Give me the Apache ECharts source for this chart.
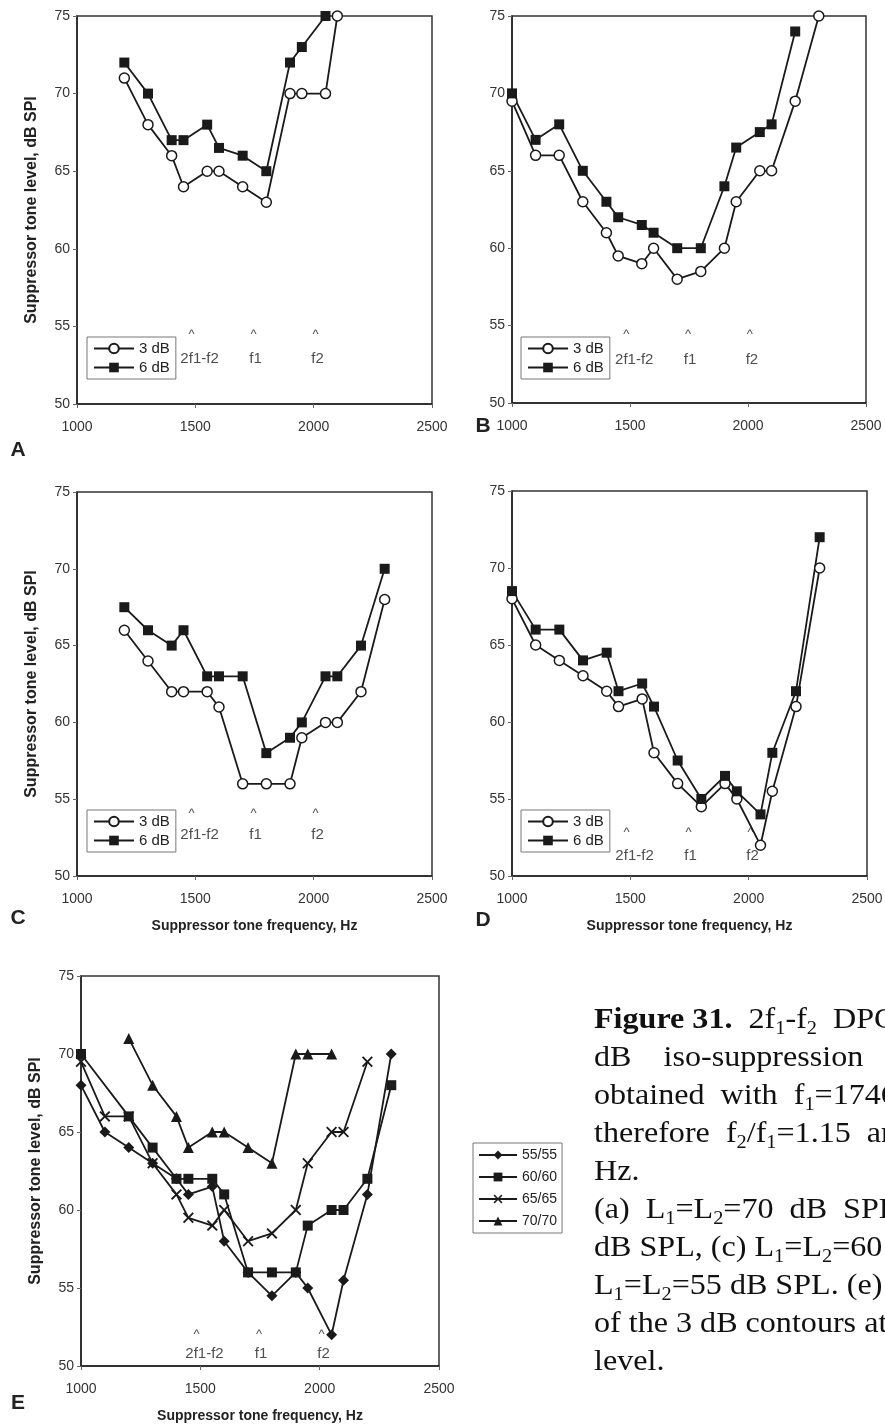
<!DOCTYPE html>
<html>
<head>
<meta charset="utf-8">
<script src="https://cdn.jsdelivr.net/npm/echarts@6/dist/echarts.min.js"></script>
<style>
  html, body { margin: 0; padding: 0; background: #fff; }
  #main { width: 885px; height: 1426px; }
</style>
</head>
<body>
<div id="main"></div>
<script>
// panel A: L1=L2=70
const freq3A = [1200, 1300, 1400, 1450, 1550, 1600, 1700, 1800, 1900, 1950, 2050, 2100];
const lev3A = [71, 68, 66, 64, 65, 65, 64, 63, 70, 70, 70, 75];
const freq6A = [1200, 1300, 1400, 1450, 1550, 1600, 1700, 1800, 1900, 1950, 2050];
const lev6A = [72, 70, 67, 67, 68, 66.5, 66, 65, 72, 73, 75];
// panel B: L1=L2=65
const freq3B = [1000, 1100, 1200, 1300, 1400, 1450, 1550, 1600, 1700, 1800, 1900, 1950, 2050, 2100, 2200, 2300];
const lev3B = [69.5, 66, 66, 63, 61, 59.5, 59, 60, 58, 58.5, 60, 63, 65, 65, 69.5, 75];
const freq6B = [1000, 1100, 1200, 1300, 1400, 1450, 1550, 1600, 1700, 1800, 1900, 1950, 2050, 2100, 2200];
const lev6B = [70, 67, 68, 65, 63, 62, 61.5, 61, 60, 60, 64, 66.5, 67.5, 68, 74];
// panel C: L1=L2=60
const freq3C = [1200, 1300, 1400, 1450, 1550, 1600, 1700, 1800, 1900, 1950, 2050, 2100, 2200, 2300];
const lev3C = [66, 64, 62, 62, 62, 61, 56, 56, 56, 59, 60, 60, 62, 68];
const freq6C = [1200, 1300, 1400, 1450, 1550, 1600, 1700, 1800, 1900, 1950, 2050, 2100, 2200, 2300];
const lev6C = [67.5, 66, 65, 66, 63, 63, 63, 58, 59, 60, 63, 63, 65, 70];
// panel D: L1=L2=55
const freq3D = [1000, 1100, 1200, 1300, 1400, 1450, 1550, 1600, 1700, 1800, 1900, 1950, 2050, 2100, 2200, 2300];
const lev3D = [68, 65, 64, 63, 62, 61, 61.5, 58, 56, 54.5, 56, 55, 52, 55.5, 61, 70];
const freq6D = [1000, 1100, 1200, 1300, 1400, 1450, 1550, 1600, 1700, 1800, 1900, 1950, 2050, 2100, 2200, 2300];
const lev6D = [68.5, 66, 66, 64, 64.5, 62, 62.5, 61, 57.5, 55, 56.5, 55.5, 54, 58, 62, 72];
// panel E: 3 dB contours per level
const freqE55 = [1000, 1100, 1200, 1300, 1400, 1450, 1550, 1600, 1700, 1800, 1900, 1950, 2050, 2100, 2200, 2300];
const levE55 = [68, 65, 64, 63, 62, 61, 61.5, 58, 56, 54.5, 56, 55, 52, 55.5, 61, 70];
const freqE60 = [1000, 1200, 1300, 1400, 1450, 1550, 1600, 1700, 1800, 1900, 1950, 2050, 2100, 2200, 2300];
const levE60 = [70, 66, 64, 62, 62, 62, 61, 56, 56, 56, 59, 60, 60, 62, 68];
const freqE65 = [1000, 1100, 1200, 1300, 1400, 1450, 1550, 1600, 1700, 1800, 1900, 1950, 2050, 2100, 2200];
const levE65 = [69.5, 66, 66, 63, 61, 59.5, 59, 60, 58, 58.5, 60, 63, 65, 65, 69.5];
const freqE70 = [1200, 1300, 1400, 1450, 1550, 1600, 1700, 1800, 1900, 1950, 2050];
const levE70 = [71, 68, 66, 64, 65, 65, 64, 63, 70, 70, 70];

// primary / distortion frequency markers
const markFreqs = [1484, 1746, 2008];
const markNames = ['2f1-f2', 'f1', 'f2'];
const xTicks = [1000, 1500, 2000, 2500];
const yTicks = [50, 55, 60, 65, 70, 75];

const FONT = "'Liberation Sans', Arial, sans-serif";
const INK = '#1a1a1a';
const CROSS = 'path://M0,1.2 L1.2,0 L5,3.8 L8.8,0 L10,1.2 L6.2,5 L10,8.8 L8.8,10 L5,6.2 L1.2,10 L0,8.8 L3.8,5 Z';

const grids = [
  { left: 77, top: 16, width: 355, height: 388 },
  { left: 512, top: 16, width: 354, height: 387 },
  { left: 77, top: 492, width: 355, height: 384 },
  { left: 512, top: 491, width: 355, height: 385 },
  { left: 81, top: 976, width: 358, height: 390 }
];

function xAxisFor(gi, withName) {
  return {
    gridIndex: gi, type: 'value',
    min: xTicks[0], max: xTicks[xTicks.length - 1], interval: 500,
    axisLine: { show: true, lineStyle: { color: '#222', width: 1.5 } },
    axisTick: { show: true, length: 4, lineStyle: { color: '#666' } },
    splitLine: { show: false },
    axisLabel: { fontSize: 14, color: '#333', margin: 16, fontFamily: FONT, formatter: v => String(v) },
    name: withName ? 'Suppressor tone frequency, Hz' : '',
    nameLocation: 'middle', nameGap: 43,
    nameTextStyle: { fontSize: 14, fontWeight: 'bold', color: '#222', fontFamily: FONT }
  };
}

function yAxisFor(gi, withName) {
  return {
    gridIndex: gi, type: 'value',
    min: yTicks[0], max: yTicks[yTicks.length - 1], interval: 5,
    axisLine: { show: true, lineStyle: { color: '#222', width: 1.5 } },
    axisTick: { show: true, length: 4, lineStyle: { color: '#666' } },
    splitLine: { show: false },
    axisLabel: { fontSize: 14, color: '#333', margin: 7, fontFamily: FONT, formatter: v => String(v) },
    name: withName ? 'Suppressor tone level, dB SPl' : '',
    nameLocation: 'middle', nameGap: 37,
    nameTextStyle: { fontSize: 16, fontWeight: 'bold', color: '#222', fontFamily: FONT }
  };
}

function curve(name, gi, xs, ys, symbol, open, size) {
  return {
    name: name, type: 'line', xAxisIndex: gi, yAxisIndex: gi,
    data: xs.map((x, k) => [x, ys[k]]),
    symbol: symbol, symbolSize: size || 10, showAllSymbol: true,
    clip: false, silent: true,
    lineStyle: { color: INK, width: 1.8 },
    itemStyle: { color: open ? '#fff' : INK, borderColor: INK, borderWidth: open ? 1.5 : 0 },
    emphasis: { disabled: true }
  };
}

function annotations(gi, caretY, labelY) {
  const base = {
    type: 'scatter', xAxisIndex: gi, yAxisIndex: gi, symbolSize: 1, silent: true,
    itemStyle: { color: 'rgba(0,0,0,0)' }
  };
  return [
    Object.assign({}, base, {
      data: markFreqs.map(f => [f, caretY]),
      label: { show: true, position: 'inside', formatter: '^', fontSize: 13, color: '#222', fontFamily: FONT }
    }),
    Object.assign({}, base, {
      data: markFreqs.map((f, k) => ({
        value: [f, labelY], name: markNames[k],
        label: { offset: [k === 0 ? 8 : 2, 0] }
      })),
      label: { show: true, position: 'inside', formatter: '{b}', fontSize: 15, color: '#222', fontFamily: FONT }
    })
  ];
}

function pairLegend(left, top) {
  return {
    data: ['3 dB', '6 dB'], left: left, top: top, orient: 'vertical',
    itemWidth: 40, itemHeight: 12, itemGap: 4, padding: [4, 6, 4, 6],
    borderColor: '#777', borderWidth: 1, selectedMode: false,
    textStyle: { fontSize: 15, color: '#222', fontFamily: FONT }
  };
}

const series = [
  curve('3 dB', 0, freq3A, lev3A, 'circle', true),
  curve('6 dB', 0, freq6A, lev6A, 'rect', false),
  curve('3 dB', 1, freq3B, lev3B, 'circle', true),
  curve('6 dB', 1, freq6B, lev6B, 'rect', false),
  curve('3 dB', 2, freq3C, lev3C, 'circle', true),
  curve('6 dB', 2, freq6C, lev6C, 'rect', false),
  curve('3 dB', 3, freq3D, lev3D, 'circle', true),
  curve('6 dB', 3, freq6D, lev6D, 'rect', false),
  curve('55/55', 4, freqE55, levE55, 'diamond', false, 11),
  curve('60/60', 4, freqE60, levE60, 'rect', false, 10),
  curve('65/65', 4, freqE65, levE65, CROSS, false, 11),
  curve('70/70', 4, freqE70, levE70, 'triangle', false, 11)
].concat(
  annotations(0, 54.5, 52.9),
  annotations(1, 54.4, 52.8),
  annotations(2, 54.1, 52.7),
  annotations(3, 52.8, 51.3),
  annotations(4, 52.0, 50.8)
);

const panelLetters = [['A', 18, 450], ['B', 483, 426], ['C', 18, 918], ['D', 483, 920], ['E', 18, 1403]];

const caption =
  '{b|Figure 31.}  2f{s|1}-f{s|2}  DPOAE 3 and 6\n' +
  'dB    iso-suppression    tuning curves\n' +
  'obtained  with  f{s|1}=1746 Hz and f{s|2}=2008 Hz,\n' +
  'therefore  f{s|2}/f{s|1}=1.15  and 2f{s|1}-f{s|2}=1484\n' +
  'Hz.\n' +
  '(a)  L{s|1}=L{s|2}=70  dB  SPL, (b) L{s|1}=L{s|2}=65\n' +
  'dB SPL, (c) L{s|1}=L{s|2}=60 dB SPL, (d)\n' +
  'L{s|1}=L{s|2}=55 dB SPL. (e) Comparison\n' +
  'of the 3 dB contours at each primary\n' +
  'level.';

const chart = echarts.init(document.getElementById('main'), null, { renderer: 'canvas' });
chart.setOption({
  animation: false,
  backgroundColor: '#fff',
  grid: grids.map(g => Object.assign({ show: true, borderColor: '#333', borderWidth: 1.5, outerBoundsMode: 'none' }, g)),
  xAxis: [xAxisFor(0, false), xAxisFor(1, false), xAxisFor(2, true), xAxisFor(3, true), xAxisFor(4, true)],
  yAxis: [yAxisFor(0, true), yAxisFor(1, false), yAxisFor(2, true), yAxisFor(3, false), yAxisFor(4, true)],
  legend: [
    pairLegend(87, 337),
    pairLegend(521, 337),
    pairLegend(87, 810),
    pairLegend(521, 810),
    {
      data: ['55/55', '60/60', '65/65', '70/70'], left: 473, top: 1143, orient: 'vertical',
      itemWidth: 38, itemHeight: 11, itemGap: 8, padding: [5, 5, 5, 5],
      borderColor: '#777', borderWidth: 1, selectedMode: false,
      textStyle: { fontSize: 14, color: '#222', fontFamily: FONT }
    }
  ],
  series: series,
  graphic: panelLetters.map(p => ({
    type: 'text', x: p[1], y: p[2],
    style: { text: p[0], fontSize: 21, fontWeight: 'bold', fill: '#222', fontFamily: FONT, align: 'center', verticalAlign: 'middle' }
  })).concat([{
    type: 'text', x: 594, y: 1001, scaleX: 1.07,
    style: {
      text: caption, fontSize: 30, lineHeight: 38, fill: '#111',
      fontFamily: "'Liberation Serif', 'Times New Roman', serif",
      verticalAlign: 'top',
      rich: {
        b: { fontSize: 30, fontWeight: 'bold', lineHeight: 38, fontFamily: "'Liberation Serif', serif" },
        s: { fontSize: 19, lineHeight: 26, verticalAlign: 'bottom', fontFamily: "'Liberation Serif', serif" }
      }
    }
  }])
});
</script>
</body>
</html>
